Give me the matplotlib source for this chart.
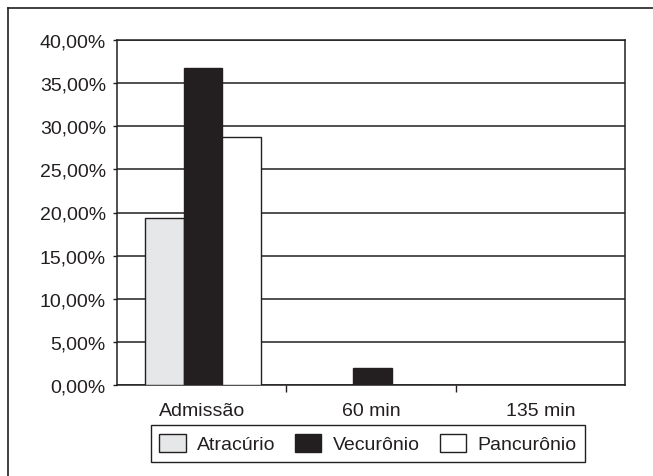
import numpy as np
import matplotlib.pyplot as plt
from matplotlib.lines import Line2D
from matplotlib.ticker import FuncFormatter

plt.rcParams['font.family'] = ['Liberation Sans', 'DejaVu Sans']

categorias = ['Admissão', '60 min', '135 min']
atracurio = [19.4, 0.0, 0.0]
vecuronio = [36.7, 2.0, 0.0]
pancuronio = [28.7, 0.0, 0.0]

escuro = '#231f20'
fig = plt.figure(figsize=(6.53, 4.77), dpi=100)
ax = fig.add_axes([117/653, 1-386/477, (625-117)/653, (386-41)/477])

x = np.arange(len(categorias)) + 0.008
w = 0.23
ax.bar(x - w, atracurio, w, color='#e6e7e8', edgecolor=escuro, linewidth=1, label='Atracúrio', zorder=3)
ax.bar(x, vecuronio, w, color=escuro, edgecolor=escuro, linewidth=1, label='Vecurônio', zorder=3)
ax.bar(x + w, pancuronio, w, color='white', edgecolor=escuro, linewidth=1, label='Pancurônio', zorder=3)

ax.set_xlim(-0.5, 2.5)
ax.set_ylim(0, 40)
ax.set_yticks(np.arange(0, 41, 5))
ax.yaxis.set_major_formatter(FuncFormatter(lambda v, p: ('%.2f%%' % v).replace('.', ',')))
ax.grid(axis='y', color=escuro, linewidth=1.1, zorder=0)
ax.set_axisbelow(True)

ax.set_xticks(np.arange(len(categorias)))
ax.set_xticklabels(categorias)
ax.set_xticks([0.5, 1.5], minor=True)
ax.tick_params(axis='x', which='major', length=0, pad=12, labelsize=14, labelcolor=escuro)
ax.tick_params(axis='x', which='minor', length=5, width=1, color=escuro, direction='out')
ax.tick_params(axis='y', length=3, width=1, color=escuro, pad=5, labelsize=14, labelcolor=escuro)

for s in ax.spines.values():
    s.set_color(escuro)
    s.set_linewidth(1.1)

leg = ax.legend(loc='upper center', bbox_to_anchor=(368/653, 1-426/477),
                bbox_transform=fig.transFigure, ncol=3, fontsize=14,
                frameon=True, fancybox=False, edgecolor=escuro, framealpha=1,
                handlelength=1.35, handleheight=1.05, handletextpad=0.6,
                columnspacing=1.0, borderpad=0.45, borderaxespad=0)
leg.get_frame().set_linewidth(1)
for t in leg.get_texts():
    t.set_color(escuro)

# moldura externa (só esquerda e topo)
fig.add_artist(Line2D([8/653, 8/653], [0, 1-9/477], color=escuro, linewidth=1.2, transform=fig.transFigure))
fig.add_artist(Line2D([8/653, 1], [1-9/477, 1-9/477], color=escuro, linewidth=1.2, transform=fig.transFigure))

fig.savefig('out.png', dpi=100)
